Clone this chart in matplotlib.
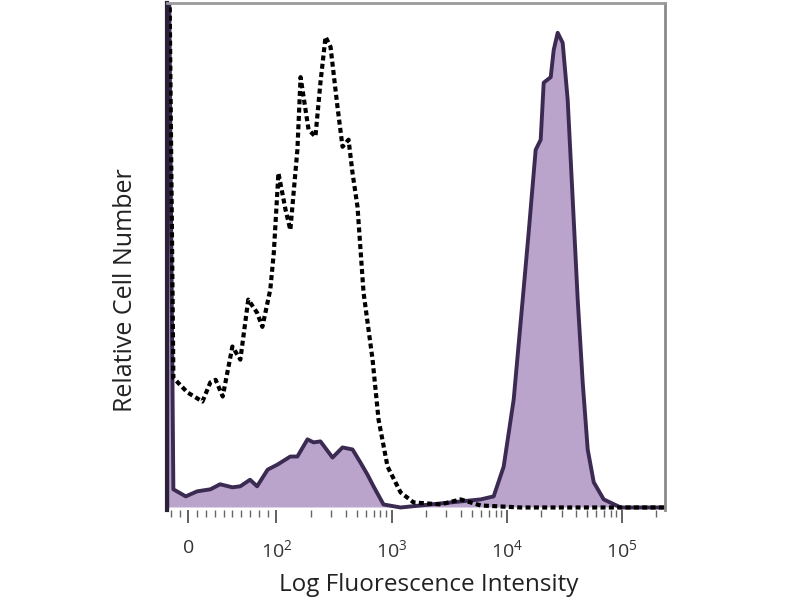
from matplotlib import pyplot as plt

plt.rcParams["font.family"] = ["Open Sans", "DejaVu Sans"]
plt.rcParams["mathtext.fontset"] = "custom"
plt.rcParams["mathtext.rm"] = "Open Sans"
plt.rcParams["mathtext.it"] = "Open Sans"

# isotype control (dashed outline), fluorescence intensity vs relative count
ctrl_x = [-24, -24, -17, -1, 16, 25, 31, 39, 50, 59, 68, 78, 84, 93, 97,
          104, 120, 132, 152, 162, 190, 218, 241, 267, 295, 339, 375, 423,
          458, 506, 571, 684, 771, 923, 1197, 1553, 2667, 3981, 5942,
          13200, 237000]
ctrl_y = [150, 150, 25.7, 22.8, 21.0, 24.8, 25.3, 22.0, 31.9, 29.3, 41.2,
          38.6, 35.8, 43.2, 50.5, 66.3, 59.0, 55.0, 70.9, 85.3, 74.9, 73.5,
          84.2, 93.3, 91.3, 79.4, 71.5, 72.9, 66.3, 59.6, 42.6, 29.3, 17.4,
          8.1, 3.0, 1.0, 0.6, 1.6, 0.4, 0, 0]

# stained sample (filled purple)
stain_x = [-24, -24, -17, -3, 10, 25, 36, 50, 59, 70, 78, 90, 102, 132, 152,
           186, 210, 241, 307, 375, 458, 537, 618, 697, 851, 1197, 5942,
           7712, 9420, 11510, 13780, 15530, 17870, 19760, 20980, 24140,
           25640, 27760, 30680, 33910, 37500, 41430, 45780, 50600, 57100,
           69700, 97900, 237000]
stain_y = [0, 150, 3.6, 2.2, 3.2, 3.6, 4.6, 4.0, 4.2, 5.5, 4.2, 7.5, 8.5,
           10.1, 10.1, 13.5, 12.9, 13.1, 9.9, 11.9, 11.5, 8.9, 6.5, 4.2, 0.6,
           0, 1.6, 2.2, 8.1, 21.4, 41.2, 54.5, 70.9, 72.9, 84.2, 85.3, 90.7,
           94.1, 92.1, 80.8, 61.0, 41.2, 24.8, 11.5, 5.0, 1.6, 0, 0]

major_ticks = [0, 1e2, 1e3, 1e4, 1e5]
major_labels = ["0", r"$10^2$", r"$10^3$", r"$10^4$", r"$10^5$"]
minor_ticks = ([-20, -10] + [10 * k for k in range(1, 10)]
               + [m * 10 ** e for e in (2, 3, 4, 5) for m in range(2, 10)])

fig = plt.figure(figsize=(8, 6), dpi=100)
ax = fig.add_axes([0.209, 0.15, 0.622, 0.845])

ax.set_xscale("symlog", linthresh=100, linscale=0.689)
ax.set_xlim(-24, 236600)
ax.set_ylim(-0.5, 100)

ax.fill_between(stain_x, stain_y, color="#baa4cb", lw=0)
ax.plot(stain_x, stain_y, color="#3b2a52", lw=2.8)
ax.plot(ctrl_x, ctrl_y, color="black", lw=3, ls=(0, (1.2, 0.8)))

ax.set_xticks(major_ticks)
ax.set_xticklabels(major_labels)
ax.set_xticks([t for t in minor_ticks if t < 236600], minor=True)
ax.tick_params(axis="x", which="major", length=9, width=1.3, color="#555555",
               labelsize=14, labelcolor="#333333", pad=12)
ax.tick_params(axis="x", which="minor", length=5, width=1.0, color="#666666")
ax.set_yticks([])

ax.spines["left"].set_color("#2a2038")
ax.spines["left"].set_linewidth(3)
ax.spines["top"].set_color("#9a9a9a")
ax.spines["top"].set_linewidth(2)
ax.spines["right"].set_color("#8a8a8a")
ax.spines["right"].set_linewidth(2)
ax.spines["bottom"].set_visible(False)

ax.set_xlabel("Log Fluorescence Intensity", fontsize=17.5, color="#222222")
ax.set_ylabel("Relative Cell Number", fontsize=18, color="#222222")
ax.xaxis.set_label_coords(0.526, -0.124)
ax.yaxis.set_label_coords(-0.058, 0.434)

plt.savefig("out.png", dpi=100)
plt.close(fig)
